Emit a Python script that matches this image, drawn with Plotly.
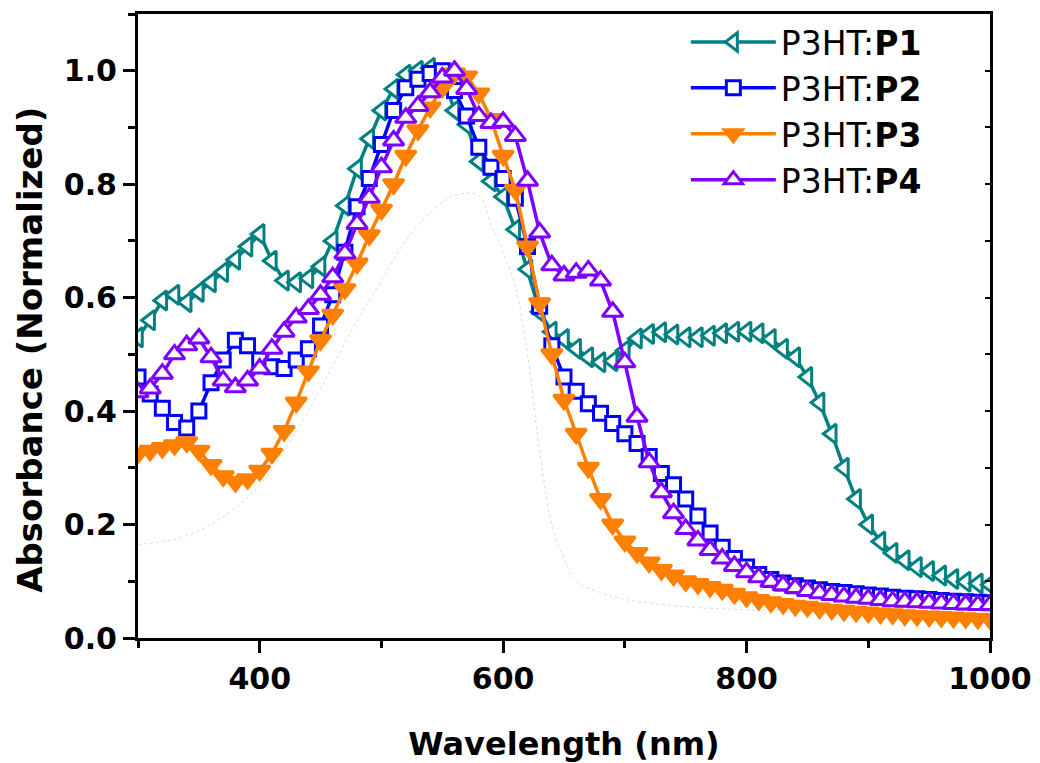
import plotly.graph_objects as go

# ---------------- data ----------------
wavelength = list(range(300, 1001, 10))

p1 = [0.53, 0.56, 0.595, 0.605, 0.592, 0.61, 0.627, 0.645, 0.667, 0.69,
      0.712, 0.665, 0.63, 0.627, 0.634, 0.655, 0.70, 0.762, 0.827, 0.88,
      0.93, 0.968, 0.993, 1.0, 1.005, 0.995, 0.93, 0.905, 0.84, 0.805,
      0.778, 0.72, 0.65, 0.575, 0.54, 0.527, 0.51, 0.495, 0.486, 0.488,
      0.507, 0.528, 0.536, 0.539, 0.535, 0.53, 0.53, 0.533, 0.537, 0.54,
      0.54, 0.537, 0.527, 0.51, 0.495, 0.46, 0.415, 0.36, 0.30, 0.245,
      0.20, 0.17, 0.15, 0.137, 0.125, 0.118, 0.11, 0.104, 0.099, 0.096,
      0.094]

p2 = [0.46, 0.43, 0.405, 0.38, 0.37, 0.40, 0.45, 0.49, 0.525, 0.515,
      0.49, 0.478, 0.475, 0.49, 0.51, 0.55, 0.605, 0.68, 0.76, 0.81,
      0.87, 0.93, 0.97, 0.985, 0.995, 1.0, 0.965, 0.92, 0.865, 0.83,
      0.81, 0.775, 0.69, 0.585, 0.515, 0.46, 0.435, 0.413, 0.396, 0.378,
      0.36, 0.343, 0.32, 0.29, 0.27, 0.245, 0.215, 0.185, 0.16, 0.14,
      0.125, 0.112, 0.103, 0.097, 0.092, 0.088, 0.085, 0.082, 0.08, 0.078,
      0.076, 0.074, 0.072, 0.07, 0.069, 0.068, 0.066, 0.065, 0.064, 0.063,
      0.062]

p3 = [0.325, 0.33, 0.335, 0.34, 0.345, 0.33, 0.305, 0.285, 0.275, 0.28,
      0.295, 0.325, 0.365, 0.415, 0.47, 0.525, 0.57, 0.615, 0.66, 0.71,
      0.755, 0.80, 0.85, 0.895, 0.935, 0.97, 0.995, 0.99, 0.96, 0.915,
      0.85, 0.79, 0.69, 0.59, 0.50, 0.42, 0.36, 0.30, 0.245, 0.20,
      0.17, 0.15, 0.133, 0.12, 0.11, 0.10, 0.095, 0.09, 0.085, 0.078,
      0.072, 0.067, 0.063, 0.06, 0.057, 0.055, 0.052, 0.05, 0.048, 0.046,
      0.045, 0.043, 0.042, 0.04, 0.039, 0.038, 0.037, 0.036, 0.035, 0.034,
      0.033]

p4 = [0.433, 0.44, 0.466, 0.50, 0.516, 0.528, 0.495, 0.454, 0.442, 0.454,
      0.475, 0.51, 0.54, 0.565, 0.58, 0.605, 0.636, 0.678, 0.73, 0.776,
      0.83, 0.877, 0.917, 0.938, 0.962, 0.988, 1.0, 0.968, 0.92, 0.908,
      0.91, 0.885, 0.806, 0.715, 0.657, 0.639, 0.644, 0.648, 0.63, 0.575,
      0.486, 0.39, 0.31, 0.257, 0.22, 0.192, 0.172, 0.155, 0.14, 0.127,
      0.116, 0.107, 0.099, 0.093, 0.088, 0.083, 0.079, 0.076, 0.073, 0.071,
      0.069, 0.067, 0.065, 0.064, 0.063, 0.062, 0.061, 0.06, 0.059, 0.058,
      0.058]

ref_wavelength = [300, 320, 340, 360, 380, 400, 420, 440, 460, 480, 500, 520,
                  540, 560, 580, 590, 600, 610, 620, 630, 640, 650, 660, 680,
                  700, 750, 800, 850, 900, 950, 1000]
ref_abs = [0.165, 0.17, 0.18, 0.20, 0.23, 0.27, 0.33, 0.40, 0.48, 0.56, 0.63,
           0.70, 0.75, 0.78, 0.78, 0.73, 0.68, 0.62, 0.50, 0.33, 0.20, 0.14,
           0.10, 0.08, 0.068, 0.055, 0.05, 0.047, 0.045, 0.043, 0.042]

names = ["P3HT:<b>P1</b>", "P3HT:<b>P2</b>", "P3HT:<b>P3</b>", "P3HT:<b>P4</b>"]
colors = ["#008080", "#0000FF", "#FF8000", "#8000FF"]
symbols = ["triangle-left", "square", "triangle-down", "triangle-up"]
sizes = [17, 14, 18, 18]
fills = ["white", "white", "#FF8000", "white"]
series = [p1, p2, p3, p4]

FONT = "DejaVu Sans"

fig = go.Figure()

fig.add_trace(go.Scatter(
    x=ref_wavelength, y=ref_abs, mode="lines", showlegend=False,
    line=dict(color="rgba(0,150,0,0.22)", width=1, dash="dot", shape="spline"),
    hoverinfo="skip"))

for name, col, sym, sz, fc, vals in zip(names, colors, symbols, sizes, fills, series):
    fig.add_trace(go.Scatter(
        x=wavelength, y=vals, mode="lines+markers", name=name,
        line=dict(color=col, width=3.5),
        marker=dict(symbol=sym, size=sz, color=fc,
                    line=dict(color=col, width=3))))

# invisible trace to attach right-side tick axis
fig.add_trace(go.Scatter(x=[300], y=[0], yaxis="y2", mode="markers",
                         marker=dict(opacity=0), showlegend=False,
                         hoverinfo="skip"))

fig.update_layout(
    width=1040, height=763,
    margin=dict(l=138, r=50, t=14, b=125, autoexpand=False),
    paper_bgcolor="white", plot_bgcolor="white",
    showlegend=True,
    legend=dict(x=0.643, y=1.0, xanchor="left", yanchor="top",
                bgcolor="rgba(0,0,0,0)", borderwidth=0,
                font=dict(family=FONT, size=33, color="black"),
                itemwidth=85, tracegroupgap=0),
    xaxis=dict(
        range=[300, 1000], tick0=0, dtick=200, automargin=False,
        showline=True, linecolor="black", linewidth=3, mirror=True,
        ticks="outside", ticklen=12, tickwidth=3, tickcolor="black",
        minor=dict(dtick=100, ticks="outside", ticklen=7, tickwidth=3,
                   tickcolor="black"),
        showgrid=False, zeroline=False,
        tickfont=dict(family=FONT, size=30, color="black", weight="bold"),
        title=dict(text="<b>Wavelength (nm)</b>", standoff=40,
                   font=dict(family=FONT, size=32, color="black")),
    ),
    yaxis=dict(
        range=[0, 1.1], tick0=0, dtick=0.2, tickformat=".1f", automargin=False,
        showline=True, linecolor="black", linewidth=3, mirror=True,
        ticks="outside", ticklen=12, tickwidth=3, tickcolor="black",
        minor=dict(dtick=0.1, ticks="outside", ticklen=7, tickwidth=3,
                   tickcolor="black"),
        showgrid=False, zeroline=False,
        tickfont=dict(family=FONT, size=30, color="black", weight="bold"),
    ),
    yaxis2=dict(
        range=[0, 1.1], overlaying="y", side="right", anchor="x",
        automargin=False,
        tick0=0, dtick=0.1, ticks="inside", ticklen=5, tickwidth=2,
        tickcolor="black", showticklabels=False, showline=False,
        showgrid=False, zeroline=False),
    annotations=[dict(
        text="<b>Absorbance (Normalized)</b>", textangle=-90,
        xref="paper", yref="paper", x=-0.127, y=0.4615,
        xanchor="center", yanchor="middle", showarrow=False,
        font=dict(family=FONT, size=34, color="black"))],
)

fig.write_html("out.html")
